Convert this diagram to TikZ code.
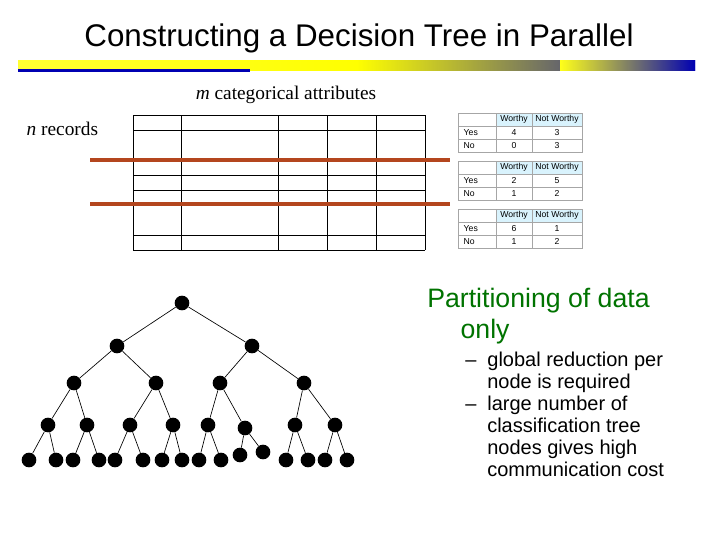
\documentclass[tikz,border=0pt]{standalone}
\usepackage{fontspec}
\setmainfont{Liberation Serif}
\newfontfamily\arial{Liberation Sans}
\begin{document}
\begin{tikzpicture}[x=0.75pt,y=-0.75pt,
  tn/.style={circle,fill=black,inner sep=0pt,minimum size=11pt},
  ed/.style={black,line width=0.5pt},
  gl/.style={black,line width=0.6pt},
  cell/.style={font=\arial\fontsize{6.5}{7}\selectfont},
]
\useasboundingbox (0,0) rectangle (720,540);
\fill[white] (0,0) rectangle (720,540);
\node[font=\arial\fontsize{23.5}{27}\selectfont] (title) at (359,38) {Constructing a Decision Tree in Parallel};
\shade[left color=yellow!80!white,right color=blue!70!black,middle color=yellow] (18,60) rectangle (695,70);
\fill[blue!70!black] (18,69) rectangle (250,72);
\shade[left color=yellow!90!white,right color=blue!70!black] (560,60) rectangle (695,70);
% grid
\foreach \x in {133,181,278,327,376,425} \draw[gl] (\x,115) -- (\x,250);
\foreach \y in {115,130,160,175,190,205,235,250} \draw[gl] (133,\y) -- (425,\y);
\draw[line width=2.6pt,color={rgb,255:red,180;green,70;blue,30}] (90,160) -- (450,160);
\draw[line width=2.6pt,color={rgb,255:red,180;green,70;blue,30}] (90,204) -- (450,204);
\node[font=\fontsize{14.5}{16}\selectfont] (mc) at (286,95) {\textit{m} categorical attributes};
\node[font=\fontsize{14.5}{16}\selectfont,anchor=west] (nr) at (22,129) {\textit{n} records};
% mini tables
\foreach \t/\a/\b/\c/\d in {113/4/3/0/3,161/2/5/1/2,209/6/1/1/2}{
  \fill[cyan!15] (496,\t) rectangle (582,\t+13);
  \draw[gray!70,line width=0.4pt] (458,\t) rectangle (582,\t+39);
  \foreach \yy in {13,26} \draw[gray!70,line width=0.4pt] (458,\t+\yy) -- (582,\t+\yy);
  \foreach \xx in {496,532} \draw[gray!70,line width=0.4pt] (\xx,\t) -- (\xx,\t+39);
  \node[cell] at (514,\t+6.5) {Worthy};
  \node[cell] at (557,\t+6.5) {Not Worthy};
  \node[cell,anchor=west] at (459,\t+19.5) {Yes};
  \node[cell,anchor=west] at (459,\t+32.5) {No};
  \node[cell] at (514,\t+19.5) {\a};
  \node[cell] at (557,\t+19.5) {\b};
  \node[cell] at (514,\t+32.5) {\c};
  \node[cell] at (557,\t+32.5) {\d};
}
% tree
\node[tn] (r) at (182,303) {};
\node[tn] (a) at (117,346) {};
\node[tn] (b) at (252,346) {};
\node[tn] (a1) at (74,383) {};
\node[tn] (a2) at (156,383) {};
\node[tn] (b1) at (220,383) {};
\node[tn] (b2) at (304,383) {};
\node[tn] (c1) at (48,425) {};
\node[tn] (c2) at (87,425) {};
\node[tn] (c3) at (130,425) {};
\node[tn] (c4) at (173,425) {};
\node[tn] (c5) at (208,425) {};
\node[tn] (c6) at (245,428) {};
\node[tn] (c7) at (295,425) {};
\node[tn] (c8) at (335,425) {};
\foreach \n/\x/\y in {1/29/460,2/56/460,3/73/460,4/99/460,5/115/460,6/143/460,7/162/460,8/182/460,9/199/460,10/221/460,11/240/455,12/263/452,13/286/460,14/308/460,15/325/460,16/347/460}
  \node[tn] (d\n) at (\x,\y) {};
\foreach \p/\c in {r/a,r/b,a/a1,a/a2,b/b1,b/b2,a1/c1,a1/c2,a2/c3,a2/c4,b1/c5,b1/c6,b2/c7,b2/c8,
  c1/d1,c1/d2,c2/d3,c2/d4,c3/d5,c3/d6,c4/d7,c4/d8,c5/d9,c5/d10,c6/d11,c6/d12,c7/d13,c7/d14,c8/d15,c8/d16}
  \draw[ed] (\p) -- (\c);
% text
\node[anchor=north west,align=left,text=green!45!black,font=\arial\fontsize{20}{23}\selectfont,inner sep=0pt] (p) at (427,288) {Partitioning of data\\\hspace{1.25em}only};
\node[anchor=north west,align=left,font=\arial\fontsize{15}{16.5}\selectfont,inner sep=0pt] (b1t) at (465,352)
 {–\hspace{0.55em}global reduction per\\\hspace{1.1em}node is required\\–\hspace{0.55em}large number of\\\hspace{1.1em}classification tree\\\hspace{1.1em}nodes gives high\\\hspace{1.1em}communication cost};
\end{tikzpicture}
\end{document}
